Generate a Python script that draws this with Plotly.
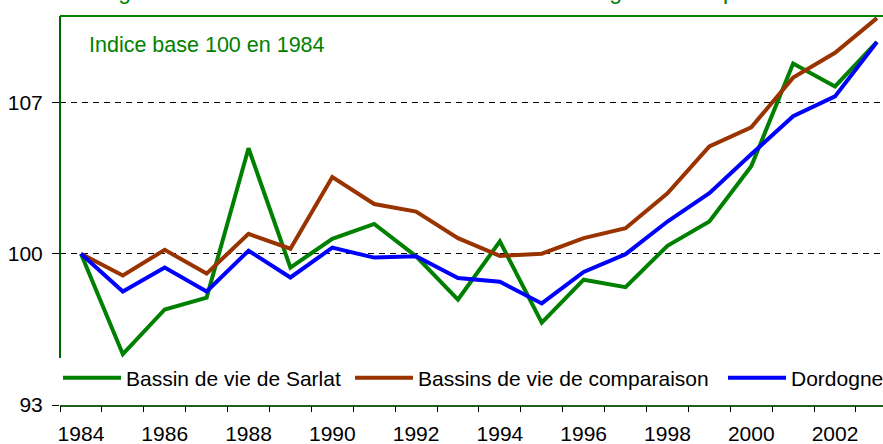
import plotly.graph_objects as go

years = list(range(1984, 2004))
sarlat = [100, 95.35, 97.42, 97.97, 104.88, 99.36, 100.69, 101.38, 99.88, 97.88,
          100.57, 96.81, 98.80, 98.45, 100.37, 101.49, 104.05, 108.80, 107.74, 109.80]
comparaison = [100, 98.99, 100.18, 99.08, 100.92, 100.23, 103.55, 102.30, 101.95, 100.72,
               99.90, 100.00, 100.72, 101.18, 102.80, 104.97, 105.85, 108.15, 109.30, 110.90]
dordogne = [100, 98.25, 99.36, 98.25, 100.14, 98.90, 100.28, 99.82, 99.88, 98.88,
            98.70, 97.70, 99.16, 99.98, 101.49, 102.80, 104.60, 106.36, 107.28, 109.80]

series_names = ["Bassin de vie de Sarlat", "Bassins de vie de comparaison", "Dordogne"]
series_colors = ["#008000", "#993300", "#0000FF"]
label_years = list(range(1984, 2004, 2))
boundary_ticks = [y - 0.5 for y in range(1984, 2005)]
y_ticks = [93, 100, 107]

title_text = "Évolution du nombre de logements sur le bassin de vie de Sarlat en Dordogne et comparaison"
note_text = "Indice base 100 en 1984"

FONT = "Liberation Sans, Arial, sans-serif"
xr = [1983.5, 2003.145]

fig = go.Figure()
legend_ids = ["legend", "legend2", "legend3"]
for name, vals, col, lg in zip(series_names, [sarlat, comparaison, dordogne], series_colors, legend_ids):
    fig.add_trace(go.Scatter(x=years, y=vals, mode="lines", name=name, legend=lg,
                             line=dict(color=col, width=4), cliponaxis=False))

# invisible trace for tick-mark axis
fig.add_trace(go.Scatter(x=[xr[0]], y=[100], xaxis="x2", mode="markers",
                         marker=dict(opacity=0), showlegend=False, hoverinfo="skip"))

def leg(xpx):
    return dict(orientation="h", x=(xpx - 60) / 823, xanchor="left", y=0.069, yanchor="middle",
                bgcolor="white", font=dict(size=21, color="black", family=FONT),
                itemwidth=58, borderwidth=0)

fig.update_layout(
    width=883, height=444,
    margin=dict(l=60, r=0, t=16, b=39, autoexpand=False),
    paper_bgcolor="white", plot_bgcolor="white",
    font=dict(family=FONT, size=21, color="black"),
    showlegend=True,
    legend=leg(58), legend2=leg(350), legend3=leg(723),
    xaxis=dict(range=xr, tickmode="array", tickvals=label_years,
               ticktext=[str(v) for v in label_years], ticks="", showgrid=False,
               zeroline=False, showline=True, linecolor="#1f5f1f", linewidth=2,
               ticklabelstandoff=9, automargin=False),
    xaxis2=dict(range=xr, overlaying="x", anchor="y", side="bottom",
                tickmode="array", tickvals=boundary_ticks, ticks="outside",
                ticklen=6, tickcolor="black", tickwidth=1, showticklabels=False,
                showgrid=False, zeroline=False, showline=False, automargin=False),
    yaxis=dict(range=[93, 111], tickmode="array", tickvals=y_ticks, ticks="outside",
               ticklen=7, tickcolor="black", showgrid=True, gridcolor="black",
               griddash="6px,5px", gridwidth=1, zeroline=False, showline=False,
               ticklabelstandoff=5, automargin=False),
    shapes=[dict(type="line", xref="paper", yref="paper", x0=0, x1=0, y0=0.12, y1=1,
                 line=dict(color="#006400", width=2), layer="above"),
            dict(type="line", xref="paper", yref="paper", x0=0, x1=1, y0=1, y1=1,
                 line=dict(color="#008000", width=2), layer="above")],
    annotations=[
        dict(text=note_text, xref="paper", yref="paper", x=(87 - 60) / 823, y=(405 - 45) / 389,
             xanchor="left", yanchor="middle", showarrow=False,
             font=dict(color="#008000", size=21.5, family=FONT)),
        dict(text=title_text, xref="paper", yref="paper", x=-0.2566, y=1.0245,
             xanchor="left", yanchor="bottom", showarrow=False,
             font=dict(color="#008000", size=23, family=FONT)),
    ],
)

fig.write_html("out.html", config={"displayModeBar": False},
               post_script="document.body.style.margin='0px';")
